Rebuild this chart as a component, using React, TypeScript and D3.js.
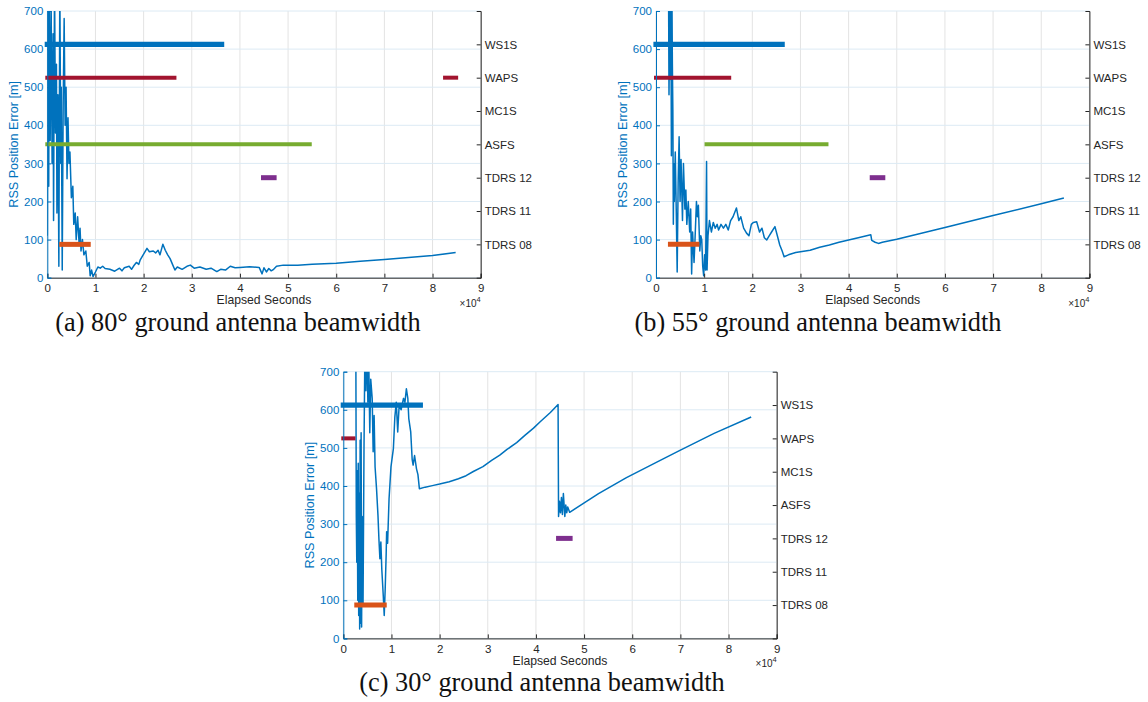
import * as d3 from 'd3';
import { useEffect, useRef } from 'react';

// right axis (ground stations / satellites), bottom to top
const stations = ['TDRS 08', 'TDRS 11', 'TDRS 12', 'ASFS', 'MC1S', 'WAPS', 'WS1S'];
const xTicks = [0, 1, 2, 3, 4, 5, 6, 7, 8, 9];
const yTicks = [0, 100, 200, 300, 400, 500, 600, 700];

// RSS position error: [elapsed seconds (x1e4), error m]
const errorA = [
  [0, 110], [0.01, 780], [0.03, 240], [0.04, 760], [0.06, 360], [0.08, 720], [0.1, 300],
  [0.12, 640], [0.13, 150], [0.15, 780], [0.17, 380], [0.19, 560], [0.2, 170], [0.22, 480],
  [0.24, 30], [0.26, 780], [0.28, 300], [0.29, 500], [0.31, 20], [0.33, 460], [0.35, 680],
  [0.37, 400], [0.39, 500], [0.41, 260], [0.43, 420], [0.45, 300], [0.47, 330], [0.5, 210],
  [0.53, 240], [0.55, 140], [0.58, 170], [0.6, 100], [0.63, 160], [0.66, 90], [0.68, 130],
  [0.7, 70], [0.73, 100], [0.76, 60], [0.8, 70], [0.83, 30], [0.87, 40], [0.89, 5],
  [0.92, 20], [0.95, 3], [1.0, 15], [1.05, 28], [1.1, 25], [1.15, 30], [1.2, 24], [1.3, 22],
  [1.4, 17], [1.5, 25], [1.55, 18], [1.6, 26], [1.7, 30], [1.75, 22], [1.8, 32], [1.85, 40],
  [1.9, 35], [1.93, 47], [2.0, 62], [2.07, 77], [2.12, 68], [2.2, 70], [2.25, 65], [2.3, 72],
  [2.34, 60], [2.4, 88], [2.45, 72], [2.5, 60], [2.55, 50], [2.6, 35], [2.65, 20], [2.7, 28],
  [2.8, 22], [2.9, 30], [2.97, 33], [3.05, 25], [3.17, 28], [3.3, 22], [3.4, 25], [3.52, 16],
  [3.6, 22], [3.7, 20], [3.8, 30], [3.9, 26], [4.0, 27], [4.2, 29], [4.4, 27], [4.46, 10],
  [4.5, 26], [4.55, 15], [4.6, 24], [4.65, 18], [4.7, 22], [4.76, 30], [4.9, 33], [5.2, 33],
  [5.5, 35], [6.0, 38], [6.5, 43], [7.0, 48], [7.5, 53], [8.0, 58], [8.48, 66],
];

const errorB = [
  [0.26, 780], [0.27, 480], [0.29, 790], [0.3, 520], [0.31, 700], [0.32, 320], [0.33, 760],
  [0.34, 560], [0.35, 440], [0.36, 140], [0.37, 300], [0.38, 200], [0.4, 330], [0.42, 180],
  [0.44, 15], [0.46, 250], [0.48, 370], [0.5, 200], [0.52, 310], [0.55, 150], [0.57, 300],
  [0.6, 180], [0.62, 230], [0.64, 140], [0.67, 200], [0.7, 120], [0.72, 180], [0.74, 10],
  [0.76, 120], [0.79, 40], [0.81, 100], [0.84, 200], [0.86, 160], [0.88, 190], [0.91, 70],
  [0.93, 110], [0.95, 100], [0.97, 30], [0.99, 5], [1.01, 60], [1.03, 20], [1.05, 305],
  [1.06, 20], [1.08, 110], [1.11, 150], [1.15, 120], [1.19, 145], [1.23, 130], [1.27, 140],
  [1.3, 125], [1.35, 140], [1.4, 130], [1.45, 140], [1.5, 125], [1.55, 150], [1.6, 160],
  [1.67, 183], [1.72, 150], [1.76, 160], [1.82, 130], [1.88, 117], [1.93, 110], [1.98, 140],
  [2.02, 145], [2.09, 147], [2.15, 120], [2.2, 130], [2.25, 105], [2.3, 99], [2.35, 110],
  [2.4, 120], [2.47, 134], [2.52, 110], [2.57, 86], [2.62, 70], [2.66, 55], [2.75, 60],
  [2.9, 66], [3.0, 68], [3.2, 72], [3.4, 80], [3.6, 86], [3.8, 93], [4.0, 99], [4.2, 105],
  [4.46, 113], [4.48, 98], [4.55, 93], [4.62, 90], [4.7, 93], [5.0, 101], [6.0, 132],
  [7.0, 163], [8.0, 194], [8.47, 209],
];

const errorC = [
  [0.26, 780], [0.27, 320], [0.28, 200], [0.29, 440], [0.3, 100], [0.31, 460], [0.32, 60],
  [0.33, 380], [0.34, 25], [0.35, 520], [0.36, 40], [0.37, 540], [0.38, 30], [0.39, 320],
  [0.41, 90], [0.43, 500], [0.45, 780], [0.47, 650], [0.49, 790], [0.51, 620], [0.53, 720],
  [0.55, 540], [0.57, 680], [0.6, 630], [0.62, 490], [0.64, 585], [0.66, 450], [0.69, 393],
  [0.72, 323], [0.74, 260], [0.76, 209], [0.78, 253], [0.8, 180], [0.83, 112], [0.85, 60],
  [0.87, 130], [0.89, 220], [0.9, 280], [0.92, 250], [0.95, 366], [0.99, 450], [1.04, 498],
  [1.07, 580], [1.1, 620], [1.13, 542], [1.16, 612], [1.2, 600], [1.25, 630], [1.28, 620],
  [1.31, 655], [1.34, 630], [1.36, 577], [1.4, 542], [1.43, 470], [1.45, 455], [1.48, 480],
  [1.52, 445], [1.55, 430], [1.58, 393], [1.7, 397], [1.85, 401], [2.0, 405], [2.2, 411],
  [2.39, 419], [2.55, 427], [2.7, 438], [2.9, 451], [3.08, 467], [3.25, 481], [3.4, 496],
  [3.6, 514], [3.77, 533], [3.95, 552], [4.1, 570], [4.3, 593], [4.46, 614], [4.47, 320],
  [4.49, 360], [4.51, 330], [4.53, 370], [4.55, 325], [4.57, 380], [4.6, 320], [4.62, 350],
  [4.64, 330], [4.66, 345], [4.7, 331], [5.3, 380], [5.88, 422], [6.5, 462], [6.98, 493],
  [7.7, 538], [8.47, 581],
];

// visibility windows: [station, start, end] (x1e4 s)
const passesA = [
  ['WS1S', 0, 3.62], ['WAPS', 0, 2.64], ['WAPS', 8.26, 8.49], ['ASFS', 0, 5.45],
  ['TDRS 12', 4.49, 4.71], ['TDRS 08', 0.3, 0.85],
];
const passesB = [
  ['WS1S', 0, 2.62], ['WAPS', 0, 1.52], ['ASFS', 1.05, 3.54],
  ['TDRS 12', 4.49, 4.71], ['TDRS 08', 0.3, 0.85],
];
const passesC = [
  ['WS1S', 0, 1.6], ['WAPS', 0, 0.21], ['TDRS 12', 4.47, 4.71], ['TDRS 08', 0.28, 0.85],
];

const captions = [
  '(a) 80° ground antenna beamwidth',
  '(b) 55° ground antenna beamwidth',
  '(c) 30° ground antenna beamwidth',
];

const stationColor = {
  WS1S: '#0072BD',
  WAPS: '#A2142F',
  ASFS: '#77AC30',
  'TDRS 12': '#7E2F8E',
  'TDRS 08': '#D95319',
};
const stationWidth = { WS1S: 5.2, WAPS: 4, ASFS: 4, 'TDRS 12': 5, 'TDRS 08': 5 };

const BLUE = '#0072BD';
const DARK = '#262626';
const SANS = '"Liberation Sans", Arial, Helvetica, sans-serif';

const panels = [
  { key: 'a', left: 47.3, top: 11, error: errorA, passes: passesA, caption: captions[0], capX: 238 },
  { key: 'b', left: 656, top: 11, error: errorB, passes: passesB, caption: captions[1], capX: 818 },
  { key: 'c', left: 343.3, top: 371.7, error: errorC, passes: passesC, caption: captions[2], capX: 542 },
];

const W = 433.4;
const H = 266.7;

const App = () => {
  const ref = useRef(null);

  useEffect(() => {
    const svg = d3.select(ref.current);
    svg.selectAll('*').remove();

    panels.forEach((p) => {
      const g = svg.append('g').attr('transform', `translate(${p.left},${p.top})`);
      const x = d3.scaleLinear().domain([0, 9]).range([0, W]);
      const y = d3.scaleLinear().domain([0, 700]).range([H, 0]);
      const yr = d3.scaleLinear().domain([0, 8]).range([H, 0]);

      // grid
      g.append('g')
        .selectAll('line')
        .data(xTicks)
        .enter()
        .append('line')
        .attr('x1', (d) => x(d))
        .attr('x2', (d) => x(d))
        .attr('y1', 0)
        .attr('y2', H)
        .style('stroke', '#E3E3E3')
        .style('stroke-width', 1);
      g.append('g')
        .selectAll('line')
        .data(yTicks)
        .enter()
        .append('line')
        .attr('x1', 0)
        .attr('x2', W)
        .attr('y1', (d) => y(d))
        .attr('y2', (d) => y(d))
        .style('stroke', '#DCEAF4')
        .style('stroke-width', 1);

      // error curve
      const clipId = `clip-${p.key}`;
      g.append('clipPath')
        .attr('id', clipId)
        .append('rect')
        .attr('x', 0)
        .attr('y', 0)
        .attr('width', W)
        .attr('height', H);
      const line = d3
        .line()
        .x((d) => x(d[0]))
        .y((d) => y(d[1]));
      g.append('path')
        .attr('d', line(p.error))
        .attr('clip-path', `url(#${clipId})`)
        .style('fill', 'none')
        .style('stroke', BLUE)
        .style('stroke-width', 1.5)
        .style('stroke-linejoin', 'round');

      // station bars
      g.append('g')
        .selectAll('line')
        .data(p.passes)
        .enter()
        .append('line')
        .attr('x1', (d) => x(d[1]))
        .attr('x2', (d) => x(d[2]))
        .attr('y1', (d) => yr(stations.indexOf(d[0]) + 1))
        .attr('y2', (d) => yr(stations.indexOf(d[0]) + 1))
        .style('stroke', (d) => stationColor[d[0]])
        .style('stroke-width', (d) => stationWidth[d[0]])
        .style('stroke-linecap', 'square');

      // bottom axis
      const xAxis = d3.axisBottom(x).tickValues(xTicks).tickSize(-4).tickPadding(6).tickFormat(d3.format('d'));
      const gx = g.append('g').attr('transform', `translate(0,${H})`).call(xAxis);
      gx.select('.domain').style('stroke', DARK);
      gx.selectAll('.tick line').style('stroke', DARK);
      gx.selectAll('text').style('fill', DARK).style('font-family', SANS).style('font-size', '11.5px');

      // left axis
      const yAxis = d3.axisLeft(y).tickValues(yTicks).tickSize(-4).tickPadding(4);
      const gy = g.append('g').call(yAxis);
      gy.select('.domain').style('stroke', BLUE);
      gy.selectAll('.tick line').style('stroke', BLUE);
      gy.selectAll('text').style('fill', BLUE).style('font-family', SANS).style('font-size', '11.5px');

      // right axis
      const rAxis = d3
        .axisRight(yr)
        .tickValues(stations.map((s, i) => i + 1))
        .tickSize(-4)
        .tickPadding(4)
        .tickFormat((d) => stations[d - 1]);
      const gr = g.append('g').attr('transform', `translate(${W},0)`).call(rAxis);
      gr.select('.domain').style('stroke', DARK);
      gr.selectAll('.tick line').style('stroke', DARK);
      gr.selectAll('text').style('fill', DARK).style('font-family', SANS).style('font-size', '11.5px');

      // labels
      g.append('text')
        .attr('x', W / 2)
        .attr('y', H + 26.5)
        .attr('text-anchor', 'middle')
        .style('font-family', SANS)
        .style('font-size', '12.2px')
        .style('fill', DARK)
        .text('Elapsed Seconds');

      g.append('text')
        .attr('transform', `translate(-29,${H / 2}) rotate(-90)`)
        .attr('text-anchor', 'middle')
        .style('font-family', SANS)
        .style('font-size', '12.6px')
        .style('fill', BLUE)
        .text('RSS Position Error [m]');

      const exp = g
        .append('text')
        .attr('x', W)
        .attr('y', H + 29)
        .attr('text-anchor', 'end')
        .style('font-family', SANS)
        .style('font-size', '10px')
        .style('fill', DARK);
      exp.append('tspan').text('×10');
      exp.append('tspan').attr('dy', -5).style('font-size', '7.5px').text('4');

      svg
        .append('text')
        .attr('x', p.capX)
        .attr('y', p.top + H + 53)
        .attr('text-anchor', 'middle')
        .style('font-family', '"Liberation Serif", "Times New Roman", serif')
        .style('font-size', '26.3px')
        .style('fill', '#111')
        .text(p.caption);
    });
  }, []);

  return (
    <div style={{ position: 'absolute', left: 0, top: 0 }}>
      <svg ref={ref} width={1148} height={702} style={{ display: 'block', background: '#fff' }}></svg>
    </div>
  );
};

export default App;
